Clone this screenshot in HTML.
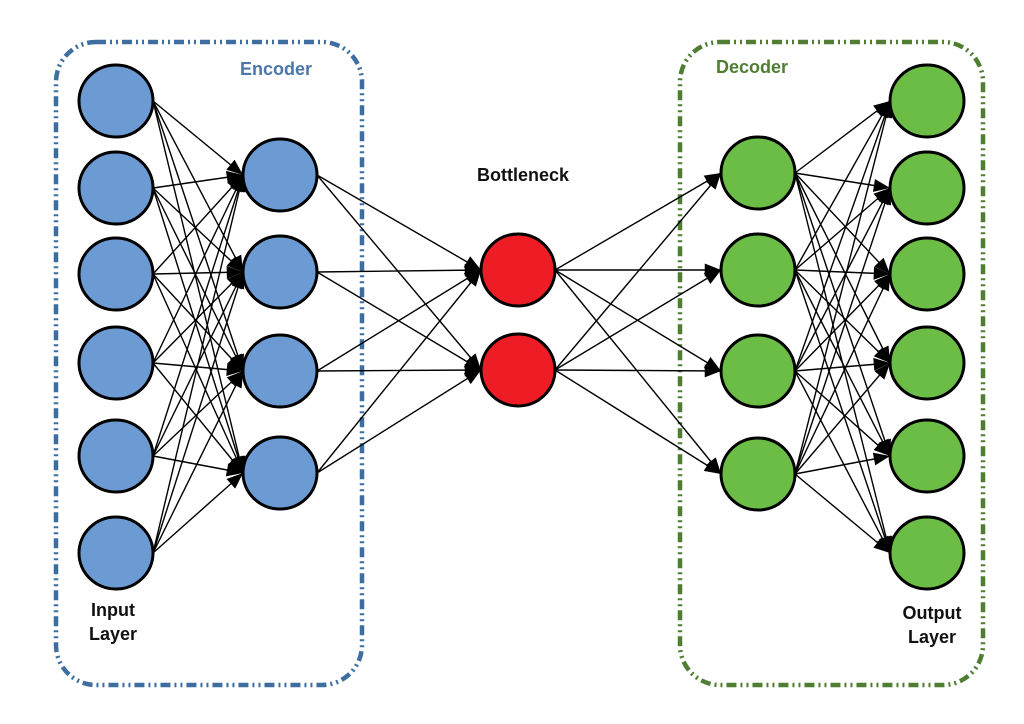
<!DOCTYPE html>
<html><head><meta charset="utf-8"><style>
html,body{margin:0;padding:0;background:#fff;}
svg{display:block;}
text{font-family:"Liberation Sans",sans-serif;font-weight:bold;}
</style></head><body>
<svg width="1024" height="724" viewBox="0 0 1024 724" xmlns="http://www.w3.org/2000/svg">
<defs>
<marker id="a" markerWidth="10" markerHeight="8" refX="10" refY="4" orient="auto" markerUnits="userSpaceOnUse">
<path d="M0,0 L18,4 L0,8 Z" transform="scale(0.56,1)" fill="#000"/>
</marker>
<marker id="b" viewBox="0 0 10 8" markerWidth="18" markerHeight="13" refX="10" refY="4" orient="auto" markerUnits="userSpaceOnUse">
<path d="M0,0 L10,4 L0,8 Z" fill="#000"/>
</marker>
</defs>
<rect x="56" y="42" width="306" height="643" rx="40" fill="none" stroke="#3d6e9f" stroke-width="4.5" stroke-dasharray="10 4 2 4 2 4"/>
<rect x="680" y="42" width="303" height="643" rx="40" fill="none" stroke="#4f7d31" stroke-width="4.5" stroke-dasharray="10 4 2 4 2 4"/>
<text x="276" y="75" font-size="18" fill="#4a76a8" text-anchor="middle">Encoder</text>
<text x="752" y="73" font-size="18" fill="#4f7d31" text-anchor="middle">Decoder</text>
<text x="523" y="181" font-size="18" fill="#111" text-anchor="middle">Bottleneck</text>
<text x="113" y="616" font-size="18" fill="#111" text-anchor="middle">Input</text>
<text x="113" y="640" font-size="18" fill="#111" text-anchor="middle">Layer</text>
<text x="932" y="619" font-size="18" fill="#111" text-anchor="middle">Output</text>
<text x="932" y="643" font-size="18" fill="#111" text-anchor="middle">Layer</text>
<g id="edges" stroke="#000" stroke-width="1.4"></g>
<g id="nodes" stroke="#000" stroke-width="3"></g>
</svg>
<script>
var R=37;
var L=[
 {x:116,ys:[101,188,274,363,456,553],f:"#6b9bd2"},
 {x:280,ys:[175,272,371,473],f:"#6b9bd2"},
 {x:518,ys:[270,370],f:"#ee1c25"},
 {x:758,ys:[173,270,371,474],f:"#6cbd45"},
 {x:927,ys:[101,188,274,363,456,553],f:"#6cbd45"}
];
var NS="http://www.w3.org/2000/svg";
var E=document.getElementById("edges"),N=document.getElementById("nodes");
for(var i=0;i<L.length-1;i++){
 var A=L[i],B=L[i+1];
 A.ys.forEach(function(y1){B.ys.forEach(function(y2){
  var l=document.createElementNS(NS,"line");
  l.setAttribute("x1",A.x+R);l.setAttribute("y1",y1);
  l.setAttribute("x2",B.x-R);l.setAttribute("y2",y2);
  l.setAttribute("marker-end","url(#b)");
  E.appendChild(l);
 });});
}
L.forEach(function(A){A.ys.forEach(function(y){
 var c=document.createElementNS(NS,"ellipse");
 c.setAttribute("cx",A.x);c.setAttribute("cy",y);c.setAttribute("rx",R);c.setAttribute("ry",R-1);
 c.setAttribute("fill",A.f);N.appendChild(c);
});});
</script>
</body></html>
